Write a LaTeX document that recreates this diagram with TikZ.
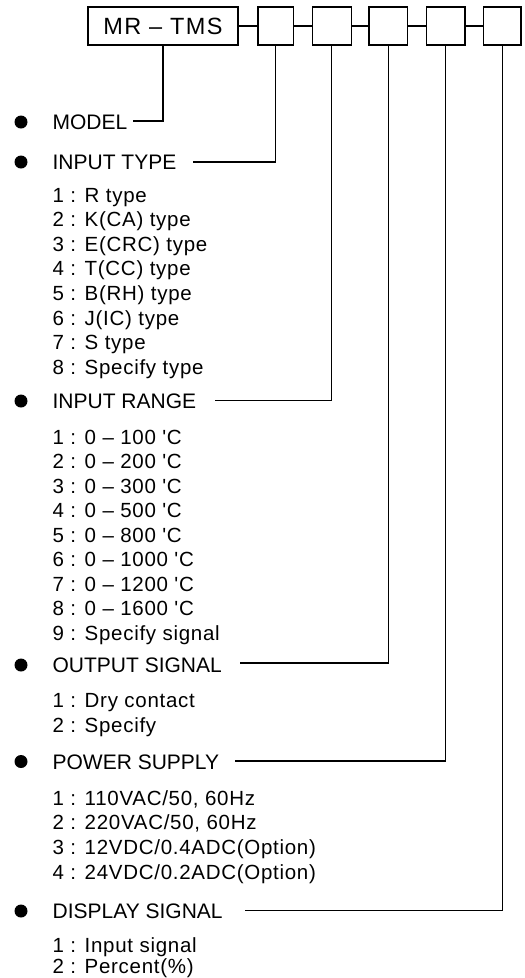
\documentclass[tikz,border=0pt]{standalone}
\usepackage{fontspec}
\setmainfont{Liberation Sans}
\newfontfamily\itemfont[LetterSpace=3.5]{Liberation Sans}
\newfontfamily\titlefont[LetterSpace=6]{Liberation Sans}
\begin{document}
\begin{tikzpicture}[x=1pt,y=-1pt,
  line width=1.3pt,
  box/.style={draw, line width=1.3pt, inner sep=0pt, minimum height=38pt},
  head/.style={anchor=base west, inner sep=0pt, font=\fontsize{21}{25}\selectfont},
  itm/.style={anchor=base west, inner sep=0pt, font=\itemfont\fontsize{20.5}{24}\selectfont},
  dot/.style={circle, fill=black, draw=none, minimum size=13pt, inner sep=0pt},
  conn/.style={line width=1.3pt}]
\useasboundingbox (0,0) rectangle (525,978);

% top boxes
\node[box, minimum width=150pt, font=\titlefont\fontsize{23.5}{27}\selectfont] (m) at (163,26) {MR – TMS};
\node[box, minimum width=35.6pt] (b1) at (275.7,26) {};
\node[box, minimum width=38.7pt] (b2) at (331.8,26) {};
\node[box, minimum width=38.4pt] (b3) at (388.3,26) {};
\node[box, minimum width=38.3pt] (b4) at (445.8,26) {};
\node[box, minimum width=37.7pt] (b5) at (502.2,26) {};
\draw[conn] (m.east) -- (b1.west);
\draw[conn] (b1.east) -- (b2.west);
\draw[conn] (b2.east) -- (b3.west);
\draw[conn] (b3.east) -- (b4.west);
\draw[conn] (b4.east) -- (b5.west);

% headings
\node[dot] (d0) at (21,122) {};
\node[head] (h0) at (52,129.5) {MODEL};
\node[dot] (d1) at (21,162) {};
\node[head] (h1) at (52,169.5) {INPUT TYPE};
\node[dot] (d2) at (21,401) {};
\node[head] (h2) at (52,408.5) {INPUT RANGE};
\node[dot] (d3) at (21,665) {};
\node[head] (h3) at (52,672.5) {OUTPUT SIGNAL};
\node[dot] (d4) at (21,761.5) {};
\node[head] (h4) at (52,769) {POWER SUPPLY};
\node[dot] (d5) at (21,911) {};
\node[head] (h5) at (52,918.5) {DISPLAY SIGNAL};

% connector start points
\coordinate (s0) at (133,121);
\coordinate (s1) at (193,162);
\coordinate (s2) at (215,400.5);
\coordinate (s3) at (240,663);
\coordinate (s4) at (235,761);
\coordinate (s5) at (245,910.5);
\draw[conn] (s0) -| (m.south);
\draw[conn] (s1) -| (b1.south);
\draw[conn] (s2) -| (b2.south);
\draw[conn] (s3) -| (b3.south);
\draw[conn] (s4) -| (b4.south);
\draw[conn] (s5) -| (b5.south);

% INPUT TYPE items
\node[itm] (t1) at (52,202) {1 : R type};
\node[itm] (t2) at (52,226.6) {2 : K(CA) type};
\node[itm] (t3) at (52,251.2) {3 : E(CRC) type};
\node[itm] (t4) at (52,275.8) {4 : T(CC) type};
\node[itm] (t5) at (52,300.4) {5 : B(RH) type};
\node[itm] (t6) at (52,325) {6 : J(IC) type};
\node[itm] (t7) at (52,349.6) {7 : S type};
\node[itm] (t8) at (52,374.2) {8 : Specify type};

% INPUT RANGE items
\node[itm] (r1) at (52,444) {1 : 0 – 100 'C};
\node[itm] (r2) at (52,468.5) {2 : 0 – 200 'C};
\node[itm] (r3) at (52,493) {3 : 0 – 300 'C};
\node[itm] (r4) at (52,517.5) {4 : 0 – 500 'C};
\node[itm] (r5) at (52,542) {5 : 0 – 800 'C};
\node[itm] (r6) at (52,566.5) {6 : 0 – 1000 'C};
\node[itm] (r7) at (52,591) {7 : 0 – 1200 'C};
\node[itm] (r8) at (52,615.5) {8 : 0 – 1600 'C};
\node[itm] (r9) at (52,640) {9 : Specify signal};

% OUTPUT SIGNAL items
\node[itm] (o1) at (52,707) {1 : Dry contact};
\node[itm] (o2) at (52,732) {2 : Specify};

% POWER SUPPLY items
\node[itm] (p1) at (52,805) {1 : 110VAC/50, 60Hz};
\node[itm] (p2) at (52,829.7) {2 : 220VAC/50, 60Hz};
\node[itm] (p3) at (52,854.4) {3 : 12VDC/0.4ADC(Option)};
\node[itm] (p4) at (52,879) {4 : 24VDC/0.2ADC(Option)};

% DISPLAY SIGNAL items
\node[itm] (q1) at (52,952.5) {1 : Input signal};
\node[itm] (q2) at (52,973) {2 : Percent(\%)};
\end{tikzpicture}
\end{document}
